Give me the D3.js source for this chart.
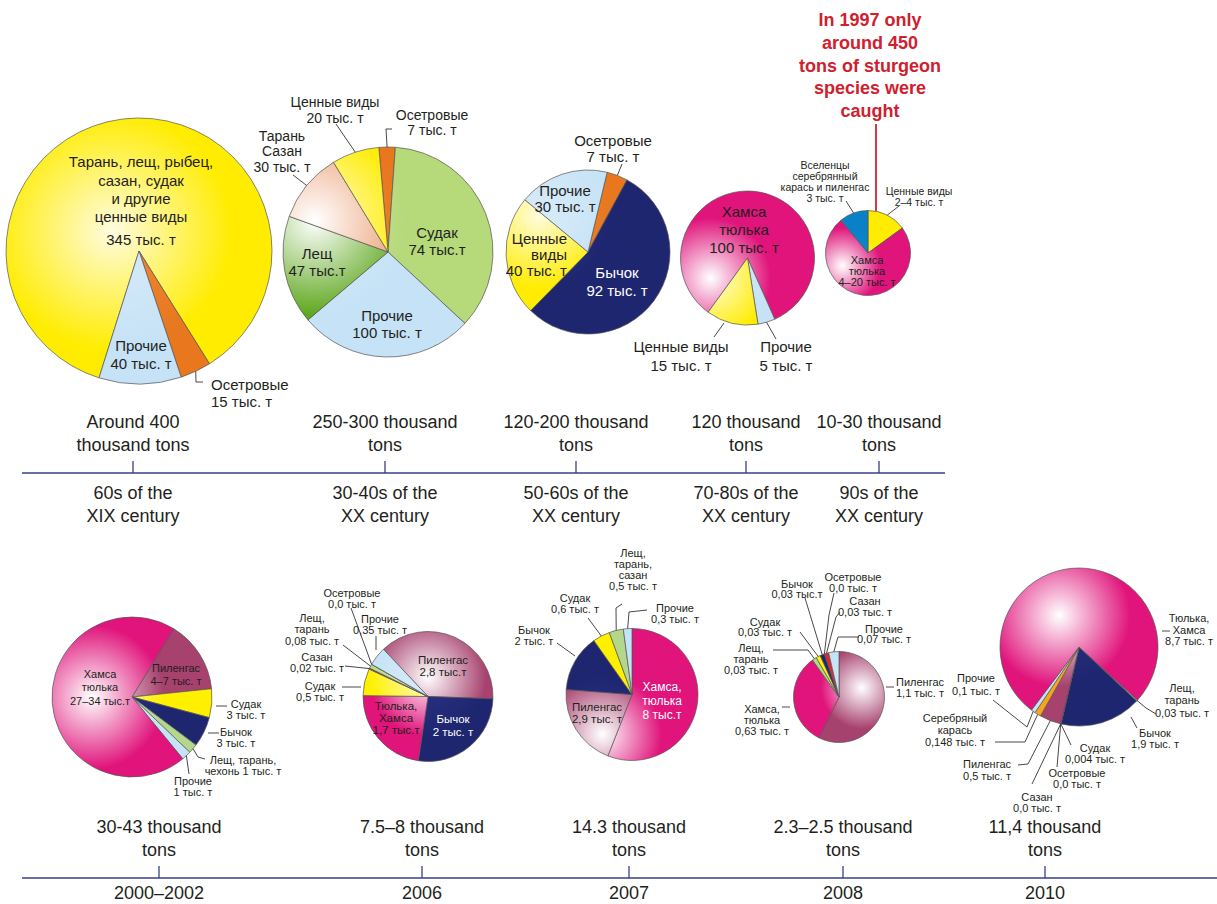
<!DOCTYPE html>
<html><head><meta charset="utf-8">
<script src="https://cdn.jsdelivr.net/npm/d3@7"></script>
<style>
html,body{margin:0;padding:0;background:#fff;}
svg{display:block;font-family:"Liberation Sans",Arial,Helvetica,sans-serif;}
</style></head><body>
<svg id="chart" width="1217" height="904"></svg>
<script>
// ================= DATA =================
// Timeline 1 (historical)
const topPeriods = [["60s of the","XIX century"],["30-40s of the","XX century"],["50-60s of the","XX century"],["70-80s of the","XX century"],["90s of the","XX century"]];
const topTotals  = [["Around 400","thousand tons"],["250-300 thousand","tons"],["120-200 thousand","tons"],["120 thousand","tons"],["10-30 thousand","tons"]];
// Timeline 2 (recent)
const bottomPeriods = ["2000–2002","2006","2007","2008","2010"];
const bottomTotals  = [["30-43 thousand","tons"],["7.5–8 thousand","tons"],["14.3 thousand","tons"],["2.3–2.5 thousand","tons"],["11,4 thousand","tons"]];

// Pie slices (category keys + values, thousand tons; where the labels give ranges, shares %)
const p1Cats = ["valuable","sturgeon","other"];
const p1Vals = [345, 15, 40];
const p2Cats = ["sturgeon","zanderG","other","breamG","roach","valuable"];
const p2Vals = [2.5, 35.8, 26.9, 16.7, 10.8, 7.3];
const p3Cats = ["sturgeon","goby","valuable","other"];
const p3Vals = [7, 92, 40, 30];
const p4Cats = ["anchovy","other","valuable"];
const p4Vals = [100, 5, 15];
const p5Cats = ["valuable","anchovy","invasive"];
const p5Vals = [15, 74, 11];

const b1Cats = ["mullet","zander","goby","bream","other","anchovy"];
const b1Vals = [14.6, 5.8, 6.1, 1.9, 1.9, 69.7];
const b2Cats = ["mullet","goby","anchovy","zander","carp","bream","sturgeon","other"];
const b2Vals = [2.8, 2, 1.7, 0.5, 0.02, 0.08, 0.0, 0.35];
const b3Cats = ["anchovy","mullet","goby","zander","bream","other"];
const b3Vals = [8, 2.9, 2, 0.6, 0.5, 0.3];
const b4Cats = ["mullet","anchovy","bream","zander","goby","sturgeon","carp","other"];
const b4Vals = [1.1, 0.63, 0.03, 0.03, 0.03, 0.0, 0.03, 0.07];
const b5Cats = ["bream","goby","zander","sturgeon","carp","mullet","crucian","other","anchovy"];
const b5Vals = [0.03, 1.9, 0.004, 0.0, 0.0, 0.5, 0.148, 0.1, 8.7];

const noteLines = ["In 1997 only","around 450","tons of sturgeon","species were","caught"];

// ================= STYLE =================
const catColor = {valuable:"#ffec00", sturgeon:"#e8771e", other:"#c6e2f6", zanderG:"#b6d97a", breamG:"#5fa81f",
  roach:"#eb9f74", goby:"#1f2670", anchovy:"#e0147b", invasive:"#0a80c6", mullet:"#a7416e", zander:"#fff000",
  bream:"#b3d88a", carp:"#e3262b", crucian:"#f6a41b"};
const catHigh = {valuable:"#fffce0", sturgeon:"#ee8a36", other:"#d8ecfa", zanderG:"#cfe6a6", breamG:"#ffffff",
  roach:"#ffffff", goby:"#2a3385", anchovy:"#ffffff", invasive:"#1a8ed0", mullet:"#ffffff", zander:"#fffbd0",
  bream:"#d8ecc0", carp:"#e9474b", crucian:"#f8b440"};
const color = d3.scaleOrdinal().domain(Object.keys(catColor)).range(Object.values(catColor));
const colorHi = d3.scaleOrdinal().domain(Object.keys(catHigh)).range(Object.values(catHigh));

const svg = d3.select("#chart");
const defs = svg.append("defs");
const TXT = "#231f20";
const AXIS = "#39408a";

// ================= AXES =================
function timeline(y, x0, x1, periods, totals, xs, below) {
  const x = d3.scaleOrdinal().domain(periods.map((p,i)=>i)).range(xs);
  svg.append("line").attr("x1",x0).attr("x2",x1).attr("y1",y).attr("y2",y)
    .attr("stroke",AXIS).attr("stroke-width",1.6);
  periods.forEach((p,i)=>{
    svg.append("line").attr("x1",x(i)).attr("x2",x(i)).attr("y1",y-12).attr("y2",y)
      .attr("stroke",AXIS).attr("stroke-width",1.3);
    const t1 = svg.append("text").attr("text-anchor","middle").attr("font-size",18).attr("fill",TXT);
    totals[i].forEach((s,j)=>t1.append("tspan").attr("x",x(i)).attr("y",y-51+j*22.3).attr("dy","0.35em").text(s));
    const t2 = svg.append("text").attr("text-anchor","middle").attr("font-size",18).attr("fill",TXT);
    const lines = Array.isArray(p) ? p : [p];
    lines.forEach((s,j)=>t2.append("tspan").attr("x",x(i)).attr("y",y+below+j*22.3).attr("dy","0.35em").text(s));
  });
}
timeline(473, 22, 945, topPeriods, topTotals, [133, 385, 576, 746, 879], 20);
timeline(878, 22, 1217, bottomPeriods, bottomTotals, [159, 422, 629, 843, 1045], 15);

// ================= PIES =================
function drawPie(id, cats, vals, cx, cy, r, startDeg, hl) {
  const data = cats.map((c,i)=>({cat:c, value:vals[i]}));
  const s = startDeg*Math.PI/180;
  const arcs = d3.pie().sort(null).value(d=>d.value).startAngle(s).endAngle(s+2*Math.PI)(data);
  const arc = d3.arc().innerRadius(0).outerRadius(r);
  // gradient coordinates are in the pie group's local space (origin = pie centre)
  [...new Set(cats)].forEach(c=>{
    const g = defs.append("radialGradient").attr("id",`g-${id}-${c}`).attr("gradientUnits","userSpaceOnUse")
      .attr("cx",hl[0]*r).attr("cy",hl[1]*r).attr("r",r*1.45)
      .attr("fx",hl[0]*r).attr("fy",hl[1]*r);
    g.append("stop").attr("offset",0).attr("stop-color",colorHi(c));
    g.append("stop").attr("offset",0.62).attr("stop-color",color(c));
    g.append("stop").attr("offset",1).attr("stop-color",color(c));
  });
  const g = svg.append("g").attr("transform",`translate(${cx},${cy})`);
  g.selectAll("path").data(arcs).join("path").attr("d",arc)
    .attr("fill",d=>`url(#g-${id}-${d.data.cat})`)
    .attr("stroke","#555").attr("stroke-width",0.7).attr("stroke-linejoin","round");
  return {arcs, cx, cy, r};
}

function label(o) {
  const t = svg.append("text").attr("font-size",o.size).attr("fill",o.color||TXT)
    .attr("text-anchor",o.anchor||"middle").attr("font-weight",o.bold?"bold":null);
  o.lines.forEach((s,i)=>t.append("tspan").attr("x",o.x).attr("y",o.y+i*o.lh).attr("dy","0.35em").text(s));
  if (o.leader) {
    const pts = o.leader.pts.slice();
    if (o.leader.pie && o.leader.slice !== undefined) {
      const P = o.leader.pie, a = P.arcs[o.leader.slice];
      const ang = (a.startAngle+a.endAngle)/2, k = o.leader.k || 1.0;
      pts.push([P.cx + P.r*k*Math.sin(ang), P.cy - P.r*k*Math.cos(ang)]);
    }
    svg.append("path").attr("d", d3.line()(pts)).attr("fill","none")
      .attr("stroke","#333").attr("stroke-width",0.9);
  }
}

// ---- top row ----
const A1 = drawPie("a1", p1Cats, p1Vals, 139, 251, 133, 197.5, [-0.2,-0.15]);
const A2 = drawPie("a2", p2Cats, p2Vals, 388, 252, 105, -5, [-0.7,-0.3]);
const A3 = drawPie("a3", p3Cats, p3Vals, 588, 252, 82, 13.5, [-0.6,-0.45]);
const A4 = drawPie("a4", p4Cats, p4Vals, 747.5, 258, 67, 216, [-0.55,0.3]);
const A5 = drawPie("a5", p5Cats, p5Vals, 868, 253, 42.5, 0, [-0.6,0.3]);

label({lines:["Тарань, лещ, рыбец,","сазан, судак","и другие","ценные виды"], x:141, y:162, lh:18.4, size:15});
label({lines:["345 тыс. т"], x:141, y:240, lh:18, size:15});
label({lines:["Прочие","40 тыс. т"], x:141, y:346, lh:18, size:15});
label({lines:["Осетровые","15 тыс. т"], x:211, y:385, lh:17, size:15, anchor:"start",
  leader:{pts:[[203,382],[196,382]], pie:A1, slice:1}});

label({lines:["Ценные виды","20 тыс. т"], x:335, y:102, lh:16, size:14,
  leader:{pts:[[336,124]], pie:A2, slice:5}});
label({lines:["Осетровые","7 тыс. т"], x:432, y:115, lh:15.5, size:14,
  leader:{pts:[[392,129],[386,129]], pie:A2, slice:0}});
label({lines:["Тарань","Сазан","30 тыс. т"], x:282, y:136, lh:15.5, size:14,
  leader:{pts:[[293,175]], pie:A2, slice:4}});
label({lines:["Судак","74 тыс.т"], x:437, y:233, lh:17, size:15});
label({lines:["Лещ","47 тыс.т"], x:317, y:254, lh:17, size:15});
label({lines:["Прочие","100 тыс. т"], x:387, y:316, lh:17, size:15});

label({lines:["Осетровые","7 тыс. т"], x:613, y:141, lh:16, size:15,
  leader:{pts:[[622,164]], pie:A3, slice:0}});
label({lines:["Прочие","30 тыс. т"], x:565, y:191, lh:16, size:15});
label({lines:["Ценные","виды","40 тыс. т"], x:567, y:239, lh:16, size:15, anchor:"end"});
label({lines:["Бычок","92 тыс. т"], x:617, y:273, lh:18, size:15, color:"#ffffff"});

label({lines:["Хамса","тюлька","100 тыс. т"], x:744, y:212, lh:18, size:15});
label({lines:["Ценные виды","15 тыс. т"], x:681, y:347, lh:19, size:15,
  leader:{pts:[[714,337],[724,323]]}});
label({lines:["Прочие","5 тыс. т"], x:786, y:347, lh:19, size:15,
  leader:{pts:[[776,339]], pie:A4, slice:1}});

label({lines:["Вселенцы","серебрянный","карась и пиленгас","3 тыс. т"], x:825, y:165, lh:11, size:10.5,
  leader:{pts:[[846,201]], pie:A5, slice:2}});
label({lines:["Ценные виды","2–4 тыс. т"], x:919, y:191, lh:11, size:10.5,
  leader:{pts:[[899,206]], pie:A5, slice:0}});
label({lines:["Хамса","тюлька","4–20 тыс. т"], x:867, y:260, lh:11, size:11});

// red note
svg.append("line").attr("x1",876).attr("x2",876).attr("y1",124).attr("y2",211)
  .attr("stroke","#d43a46").attr("stroke-width",2);
label({lines:noteLines, x:870, y:20, lh:22.6, size:18, bold:true, color:"#d0202e"});

// ---- bottom row ----
const B1 = drawPie("b1", b1Cats, b1Vals, 132, 697, 80, 31.5, [-0.5,0.0]);
const B2 = drawPie("b2", b2Cats, b2Vals, 428, 696.5, 65, 316.7, [0.0,-0.3]);
const B3 = drawPie("b3", b3Cats, b3Vals, 632, 694.5, 66, 0, [-0.45,0.6]);
const B4 = drawPie("b4", b4Cats, b4Vals, 839, 697, 45.5, 0, [0.5,-0.2]);
const B5 = drawPie("b5", b5Cats, b5Vals, 1079, 647, 79, 132.2, [-0.25,-0.4]);

label({lines:["Хамса","тюлька","27–34 тыс.т"], x:100, y:674, lh:13.5, size:11});
label({lines:["Пиленгас","4–7 тыс. т"], x:176, y:668, lh:13, size:11});
label({lines:["Судак","3 тыс. т"], x:246, y:704, lh:11.5, size:11, leader:{pts:[[216,706],[227,706]]}});
label({lines:["Бычок","3 тыс. т"], x:236, y:732, lh:11, size:11, leader:{pts:[[208,733],[219,733]]}});
label({lines:["Лещ, тарань,","чехонь 1 тыс. т"], x:243, y:760, lh:11, size:11,
  leader:{pts:[[205,759],[198,757]], pie:B1, slice:3}});
label({lines:["Прочие","1 тыс. т"], x:193, y:781, lh:11, size:11,
  leader:{pts:[[189,774]], pie:B1, slice:4}});

label({lines:["Пиленгас","2,8 тыс.т"], x:443, y:660, lh:12, size:11.5});
label({lines:["Бычок","2 тыс. т"], x:453, y:719, lh:12.5, size:11.5, color:"#ffffff"});
label({lines:["Тюлька,","Хамса","1,7 тыс.т"], x:396, y:706, lh:12, size:11.5});
label({lines:["Судак","0,5  тыс. т"], x:320, y:686, lh:11.5, size:11, leader:{pts:[[342,687],[361,687]]}});
label({lines:["Сазан","0,02 тыс. т"], x:317, y:657, lh:11.5, size:11, leader:{pts:[[345,666]], pie:B2, slice:4}});
label({lines:["Лещ,","тарань","0,08  тыс. т"], x:312, y:618, lh:11.5, size:11, leader:{pts:[[343,645]], pie:B2, slice:5}});
label({lines:["Осетровые","0,0 тыс. т"], x:352, y:593, lh:11.5, size:11, leader:{pts:[[351,608]], pie:B2, slice:6}});
label({lines:["Прочие","0,35 тыс. т"], x:380, y:619, lh:11.5, size:11, leader:{pts:[[376,636],[376,650]]}});

label({lines:["Хамса,","тюлька","8 тыс.т"], x:662, y:687, lh:14, size:12, color:"#ffffff"});
label({lines:["Пиленгас","2,9 тыс. т"], x:597, y:707, lh:12, size:11.5});
label({lines:["Бычок","2 тыс. т"], x:534, y:630, lh:11.5, size:11, leader:{pts:[[557,643],[575,656]]}});
label({lines:["Судак","0,6  тыс. т"], x:575, y:598, lh:11, size:11, leader:{pts:[[588,618]], pie:B3, slice:3}});
label({lines:["Лещ,","тарань,","сазан","0,5  тыс. т"], x:633, y:553, lh:11, size:11,
  leader:{pts:[[622,604],[616,608]], pie:B3, slice:4}});
label({lines:["Прочие","0,3 тыс. т"], x:675, y:608, lh:11, size:11,
  leader:{pts:[[647,610],[629,612]], pie:B3, slice:5}});

label({lines:["Бычок","0,03 тыс.т"], x:797, y:584, lh:10.5, size:11, leader:{pts:[[805,598]], pie:B4, slice:4}});
label({lines:["Осетровые","0,0 тыс. т"], x:853, y:577, lh:11, size:11, leader:{pts:[[834,593],[829,615]], pie:B4, slice:5}});
label({lines:["Сазан","0,03 тыс. т"], x:865, y:601, lh:11, size:11, leader:{pts:[[840,612],[836,617]], pie:B4, slice:6}});
label({lines:["Судак","0,03  тыс. т"], x:765, y:622, lh:10.5, size:11, leader:{pts:[[800,632]], pie:B4, slice:3}});
label({lines:["Прочие","0,07 тыс. т"], x:884, y:629, lh:10.5, size:11, leader:{pts:[[859,637],[838,637]], pie:B4, slice:7}});
label({lines:["Лещ,","тарань","0,03  тыс. т"], x:751, y:648, lh:11, size:11, leader:{pts:[[773,650],[808,650]], pie:B4, slice:2}});
label({lines:["Хамса,","тюлька","0,63 тыс. т"], x:762, y:709, lh:11, size:11, leader:{pts:[[782,707],[790,707]]}});
label({lines:["Пиленгас","1,1 тыс. т"], x:896, y:682, lh:11.5, size:11, anchor:"start", leader:{pts:[[886,687],[894,687]]}});

label({lines:["Тюлька,","Хамса","8,7 тыс. т"], x:1189, y:618, lh:11.8, size:11, leader:{pts:[[1162,631],[1170,631]]}});
label({lines:["Лещ,","тарань","0,03 тыс. т"], x:1182, y:688, lh:12.5, size:11, leader:{pts:[[1156,714],[1146,708]], pie:B5, slice:0}});
label({lines:["Бычок","1,9 тыс. т"], x:1155, y:733, lh:11, size:11, leader:{pts:[[1137,728],[1131,717]]}});
label({lines:["Судак","0,004  тыс. т"], x:1095, y:748, lh:11, size:11, leader:{pts:[[1071,745]], pie:B5, slice:2}});
label({lines:["Осетровые","0,0 тыс. т"], x:1077, y:773, lh:11, size:11, leader:{pts:[[1057,767]], pie:B5, slice:3}});
label({lines:["Сазан","0,0 тыс. т"], x:1037, y:797, lh:11, size:11, leader:{pts:[[1032,784]], pie:B5, slice:4}});
label({lines:["Пиленгас","0,5 тыс. т"], x:987, y:764, lh:12.5, size:11, leader:{pts:[[1018,765],[1028,764]], pie:B5, slice:5}});
label({lines:["Серебряный","карась","0,148 тыс. т"], x:955, y:718, lh:12.2, size:11, leader:{pts:[[995,742],[1025,742]], pie:B5, slice:6}});
label({lines:["Прочие","0,1 тыс. т"], x:976, y:678, lh:13, size:11, leader:{pts:[[993,700],[1027,727]], pie:B5, slice:7}});
</script>
</body></html>
